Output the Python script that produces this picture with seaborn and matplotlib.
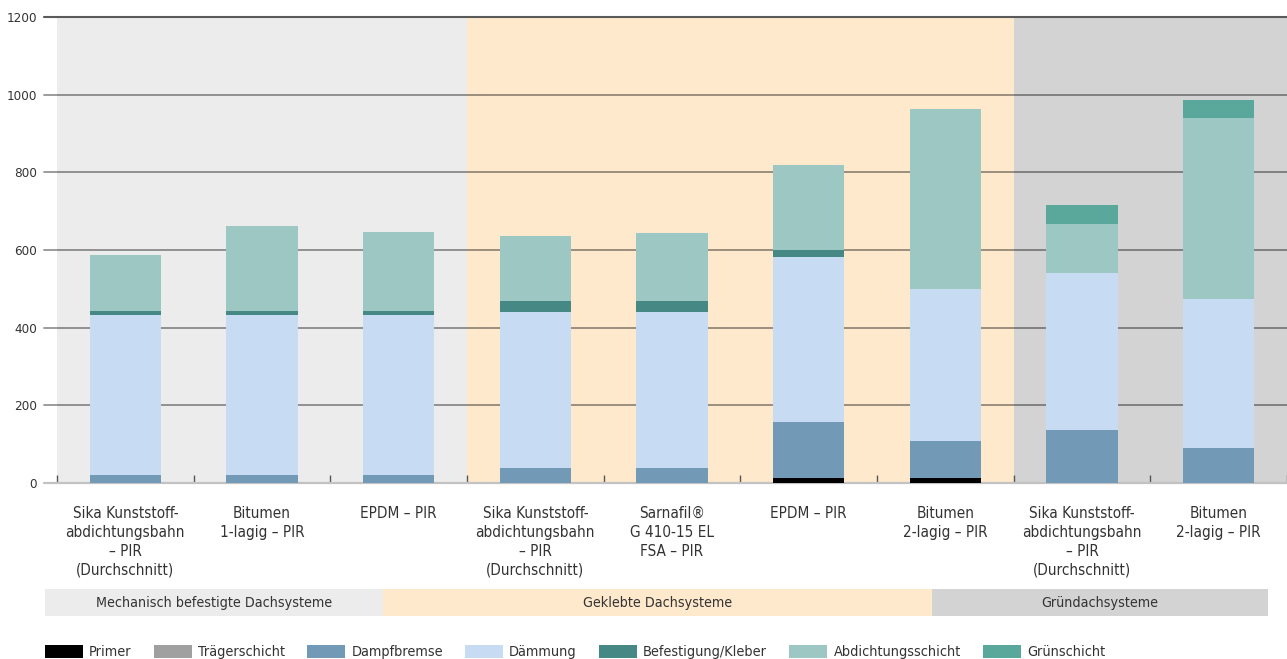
import matplotlib
matplotlib.use("Agg")
import matplotlib.pyplot as plt
from matplotlib.patches import Patch, Rectangle
import numpy as np
import pandas as pd
import seaborn as sns

# --- data -------------------------------------------------------------
categories = [
    "Sika Kunststoff-\nabdichtungsbahn\n– PIR\n(Durchschnitt)",
    "Bitumen\n1-lagig – PIR",
    "EPDM – PIR",
    "Sika Kunststoff-\nabdichtungsbahn\n– PIR\n(Durchschnitt)",
    "Sarnafil®\nG 410-15 EL\nFSA – PIR",
    "EPDM – PIR",
    "Bitumen\n2-lagig – PIR",
    "Sika Kunststoff-\nabdichtungsbahn\n– PIR\n(Durchschnitt)",
    "Bitumen\n2-lagig – PIR",
]

primer = [0, 0, 0, 0, 0, 12, 12, 0, 0]
traegerschicht = [0, 0, 0, 0, 0, 0, 0, 0, 0]
dampfbremse = [20, 20, 20, 38, 38, 146, 97, 136, 91]
daemmung = [413, 413, 413, 403, 403, 423, 390, 405, 382]
befestigung = [9, 9, 9, 28, 28, 19, 0, 0, 0]
abdichtung = [145, 220, 204, 167, 174, 219, 463, 126, 466]
gruenschicht = [0, 0, 0, 0, 0, 0, 0, 49, 47]

layer_names = ["Primer", "Trägerschicht", "Dampfbremse", "Dämmung",
               "Befestigung/Kleber", "Abdichtungsschicht", "Grünschicht"]

groups = ["Mechanisch befestigte Dachsysteme", "Geklebte Dachsysteme", "Gründachsysteme"]
group_sizes = [3, 4, 2]

y_ticks = [0, 200, 400, 600, 800, 1000, 1200]

# --- style ------------------------------------------------------------
layer_colors = ["#000000", "#a0a0a0", "#7299b6", "#c7dcf2",
                "#468884", "#9cc7c3", "#5aa79b"]
group_colors = ["#ececec", "#fee9cc", "#d3d3d3"]
text_color = "#333333"

sns.set_theme(style="white")
plt.rcParams["font.family"] = ["DejaVu Sans"]
plt.rcParams["font.stretch"] = "condensed"

W, H = 1287, 659
fig = plt.figure(figsize=(W / 100, H / 100), dpi=100)
ax = fig.add_axes([44 / W, 1 - 483 / H, 1 - 44 / W, (483 - 17) / H])

# group backgrounds behind the bars
start = -0.5
for size, col in zip(group_sizes, group_colors):
    ax.axvspan(start, start + size, color=col, lw=0, zorder=0)
    start += size

# horizontal grid lines
for t in y_ticks:
    if t == 0:
        ax.axhline(t, color="#c2c2c2", lw=1.6, zorder=0.6, clip_on=False)
    elif t == y_ticks[-1]:
        ax.axhline(t, color="#5a5a5a", lw=1.5, zorder=0.6, clip_on=False)
    else:
        ax.axhline(t, color="black", alpha=0.42, lw=1.3, zorder=0.6, clip_on=False)

# stacked bars: draw cumulative totals from the top layer down
layers = [primer, traegerschicht, dampfbremse, daemmung,
          befestigung, abdichtung, gruenschicht]
cumulative = np.cumsum(np.array(layers, dtype=float), axis=0)
positions = list(range(len(categories)))
for i in reversed(range(len(layers))):
    sns.barplot(x=positions, y=cumulative[i], color=layer_colors[i],
                saturation=1, width=0.52, errorbar=None, linewidth=0,
                ax=ax, zorder=2)

ax.set_xlim(-0.595, len(categories) - 0.5)
ax.set_ylim(0, 1200)
for s in ax.spines.values():
    s.set_visible(False)

ax.set_xticks(positions)
ax.set_xticklabels(categories, fontsize=11, color=text_color, linespacing=1.33)
ax.set_xticks(np.arange(-0.5, len(categories), 1.0), minor=True)
ax.tick_params(axis="x", which="major", length=0, pad=16.5)
ax.tick_params(axis="x", which="minor", direction="in", length=6, width=1,
               color="#555555", bottom=True)
ax.set_yticks(y_ticks)
ax.set_yticklabels([str(t) for t in y_ticks], fontsize=9.6, color=text_color)
ax.tick_params(axis="y", length=0, pad=5)
ax.set_xlabel("")
ax.set_ylabel("")

# group bands under the category labels
band_edges = [45, 383, 932, 1268]
for k, (name, col) in enumerate(zip(groups, group_colors)):
    x0, x1 = band_edges[k], band_edges[k + 1]
    fig.patches.append(Rectangle((x0 / W, 1 - 616 / H), (x1 - x0) / W, 27 / H,
                                 transform=fig.transFigure, facecolor=col,
                                 edgecolor="none", zorder=0))
    fig.text((x0 + x1) / 2 / W, 1 - 602.5 / H, name, ha="center", va="center",
             fontsize=10.3, color=text_color)

# legend
handles = [Patch(facecolor=c, edgecolor="none") for c in layer_colors]
fig.legend(handles, layer_names, loc="center left",
           bbox_to_anchor=(45 / W, 1 - 652 / H), ncol=7, frameon=False,
           fontsize=10.4, handlelength=2.63, handleheight=1.04,
           handletextpad=0.42, columnspacing=1.54, borderpad=0,
           borderaxespad=0, labelcolor=text_color)

fig.savefig("out.png", dpi=100)
